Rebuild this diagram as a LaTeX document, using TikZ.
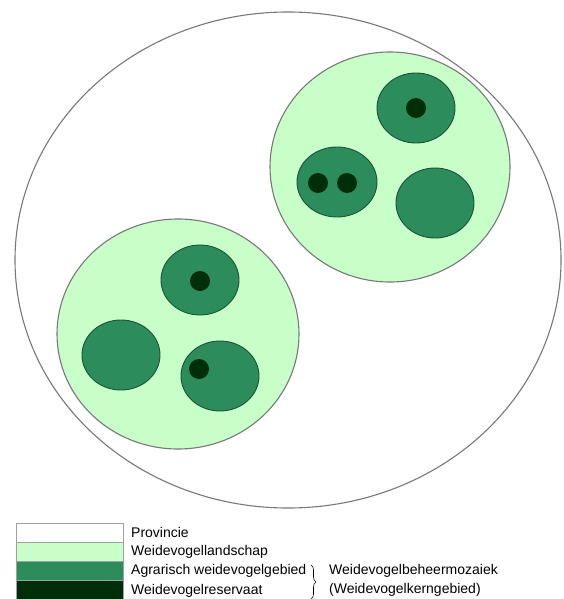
\documentclass[tikz,border=0pt]{standalone}
\usepackage{fontspec}
\setmainfont{Liberation Sans}
\usepackage{tikz}
\usetikzlibrary{positioning, decorations.pathreplacing}

\definecolor{landschap}{RGB}{200,255,200}
\definecolor{agrarisch}{RGB}{44,140,92}
\definecolor{reservaat}{RGB}{0,46,8}
\definecolor{rand}{RGB}{120,120,120}

\begin{document}
\begin{tikzpicture}[
    x=1pt, y=-1pt,
    provincie/.style={draw=rand, line width=1.1pt, fill=white},
    gebied/.style={draw=rand, line width=1.1pt, fill=landschap},
    mozaiek/.style={draw=agrarisch!60!black, line width=0.9pt, fill=agrarisch},
    kern/.style={fill=reservaat},
    legbox/.style={rectangle, draw=rand!70, line width=0.6pt, minimum width=107pt, minimum height=19.25pt, inner sep=0pt, outer sep=0pt},
    legtext/.style={font=\fontsize{14}{16}\selectfont, inner sep=0pt, anchor=west}
]
\useasboundingbox (0,0) rectangle (564,599);

% Provincie
\draw[provincie] (288,260) ellipse [x radius=273pt, y radius=248pt];

% Weidevogellandschappen
\draw[gebied] (390,167) ellipse [x radius=120pt, y radius=115pt];
\draw[gebied] (178,334) ellipse [x radius=121pt, y radius=115pt];

% Agrarische weidevogelgebieden
\draw[mozaiek] (416,108) ellipse [x radius=39pt, y radius=35pt];
\draw[mozaiek] (337,182) ellipse [x radius=40pt, y radius=35pt];
\draw[mozaiek] (435,203) ellipse [x radius=39pt, y radius=35pt];
\draw[mozaiek] (200,280) ellipse [x radius=39pt, y radius=35pt];
\draw[mozaiek] (121,355) ellipse [x radius=39pt, y radius=35pt];
\draw[mozaiek] (220,376) ellipse [x radius=39pt, y radius=35pt];

% Weidevogelreservaten
\fill[kern] (416,108) circle (10pt);
\fill[kern] (318,183) circle (10pt);
\fill[kern] (347,183) circle (10pt);
\fill[kern] (200,281) circle (10pt);
\fill[kern] (199,369) circle (10pt);

% Legenda
\node[legbox, fill=white, anchor=north west] (lprov) at (16,523) {};
\node[legbox, fill=landschap, below=0pt of lprov] (lland) {};
\node[legbox, fill=agrarisch, below=0pt of lland] (lagr) {};
\node[legbox, fill=reservaat, below=0pt of lagr] (lres) {};

\node[legtext, right=8pt of lprov.east] (tprov) {Provincie};
\node[legtext, right=8pt of lland.east] (tland) {Weidevogellandschap};
\node[legtext, right=8pt of lagr.east] (tagr) {Agrarisch weidevogelgebied};
\node[legtext, right=8pt of lres.east] (tres) {Weidevogelreservaat};

\coordinate (btop) at (311,565);
\coordinate (bbot) at (311,599);
\draw[decorate, decoration={brace, amplitude=5pt}, line width=0.6pt] (btop) -- (bbot);

\node[legtext] (tmoz) at (329,571) {Weidevogelbeheermozaiek};
\node[legtext] (tkern) at (329,590) {(Weidevogelkerngebied)};

\end{tikzpicture}
\end{document}
